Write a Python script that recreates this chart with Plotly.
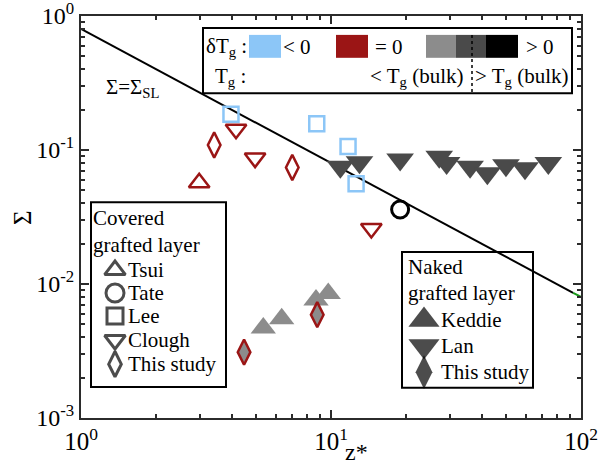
import plotly.graph_objects as go

FONT = "Liberation Serif, Times New Roman, serif"
BLUE = "#8cc6f7"
RED = "#9b1515"
GRAY = "#8c8c8c"
DGRAY = "#4a4a4a"
AX = "#2b2b2b"

# ---- data ----
tsui_z = [2.97]
tsui_s = [0.057]
tate_z = [18.9]
tate_s = [0.036]
lee_z = [3.98, 8.77, 11.7, 12.6]
lee_s = [0.185, 0.157, 0.106, 0.056]
clough_z = [4.17, 4.97, 14.5]
clough_s = [0.143, 0.087, 0.026]
study_cov_z = [3.41, 7.0]
study_cov_s = [0.109, 0.074]
keddie_z = [5.36, 6.35, 8.71, 9.75]
keddie_s = [0.0047, 0.0055, 0.0076, 0.0085]
lan_z = [10.9, 13.0, 18.9, 27.1, 29.0, 36.0, 42.2, 50.1, 59.7, 74.0]
lan_s = [0.075, 0.081, 0.085, 0.089, 0.080, 0.075, 0.067, 0.077, 0.073, 0.080]
study_nak_z = [4.49, 8.81]
study_nak_s = [0.0031, 0.0059]
sl_coef = 0.8
sl_z = [1, 93]
sl_z_end = [93, 100]

fig = go.Figure()

fig.add_trace(go.Scatter(x=sl_z, y=[sl_coef / z for z in sl_z], mode="lines",
                         line=dict(color="black", width=2), showlegend=False))
fig.add_trace(go.Scatter(x=sl_z_end, y=[sl_coef / z for z in sl_z_end], mode="lines",
                         xaxis="x3", yaxis="y3",
                         line=dict(color="#1a9a1a", width=2), showlegend=False))

def filled(zs, ss, symbol, size, fill, edge=None, lw=0):
    fig.add_trace(go.Scatter(
        x=zs, y=ss, mode="markers", showlegend=False,
        marker=dict(symbol=symbol, size=size, color=fill,
                    line=dict(color=edge if edge else fill, width=lw))))

def hollow(zs, ss, symbol, size, color, lw=2.5):
    fig.add_trace(go.Scatter(
        x=zs, y=ss, mode="markers", showlegend=False,
        marker=dict(symbol=symbol + "-open", size=size, color=color,
                    line=dict(color=color, width=lw))))

filled(keddie_z, keddie_s, "triangle-up", 22, GRAY)
filled(lan_z, lan_s, "triangle-down", 24, DGRAY)
filled(study_nak_z, study_nak_s, "diamond-tall", 18, GRAY, RED, 2.5)
hollow(tsui_z, tsui_s, "triangle-up", 18, RED)
hollow(clough_z, clough_s, "triangle-down", 18, RED)
hollow(study_cov_z, study_cov_s, "diamond-tall", 18, RED)
hollow(lee_z, lee_s, "square", 15, BLUE)
hollow(tate_z, tate_s, "circle", 17, "black", 3)

# legend markers on an overlay linear axis (paper-like coordinates)
leg_cov = [("triangle-up-open", "Tsui", 0.368), ("circle-open", "Tate", 0.311),
           ("square-open", "Lee", 0.254), ("triangle-down-open", "Clough", 0.194),
           ("diamond-tall-open", "This study", 0.134)]
leg_nak = [("triangle-up", "Keddie", 0.244), ("triangle-down", "Lan", 0.179),
           ("diamond-tall", "This study", 0.114)]
fig.add_trace(go.Scatter(
    x=[0.068] * len(leg_cov), y=[l[2] for l in leg_cov], mode="markers",
    xaxis="x2", yaxis="y2", showlegend=False,
    marker=dict(symbol=[l[0] for l in leg_cov], size=[18, 18, 16, 18, 18],
                color="black", line=dict(color="black", width=3))))
fig.add_trace(go.Scatter(
    x=[0.686] * len(leg_nak), y=[l[2] for l in leg_nak], mode="markers",
    xaxis="x2", yaxis="y2", showlegend=False,
    marker=dict(symbol=[l[0] for l in leg_nak], size=[27, 27, 24],
                color="black", line=dict(width=0))))

ann = []
def txt(x, y, t, xa="left", size=21, angle=0):
    ann.append(dict(x=x, y=y, xref="paper", yref="paper", text=t, showarrow=False,
                    xanchor=xa, yanchor="middle", textangle=angle,
                    font=dict(family=FONT, size=size, color="black")))

for sym, name, y in leg_cov:
    txt(0.090, y, name)
for sym, name, y in leg_nak:
    txt(0.716, y, name)
txt(0.020, 0.4975, "Covered")
txt(0.020, 0.430, "grafted layer")
txt(0.650, 0.376, "Naked")
txt(0.650, 0.311, "grafted layer")

txt(0.246, 0.923, "δT<sub>g</sub> :")
txt(0.400, 0.923, "< 0")
txt(0.584, 0.923, "= 0")
txt(0.886, 0.923, "> 0")
txt(0.264, 0.848, "T<sub>g</sub> :")
txt(0.768, 0.848, "< T<sub>g</sub> (bulk)", "right")
txt(0.784, 0.848, "> T<sub>g</sub> (bulk)")
txt(0.102, 0.821, "Σ=Σ<sub>SL</sub>", "center")
txt(0.550, -0.085, "z*", "center", 24)
txt(-0.118, 0.4975, "Σ", "center", 25, -90)

shapes = []
def rect(x0, x1, y0, y1, fill=None, lw=2):
    shapes.append(dict(type="rect", xref="paper", yref="paper", x0=x0, x1=x1, y0=y0, y1=y1,
                       line=dict(color="black", width=lw if not fill else 0),
                       fillcolor=fill if fill else "white", layer="above" if fill else "below"))

rect(0.244, 0.982, 0.808, 0.970)
rect(0.020, 0.290, 0.077, 0.537)
rect(0.642, 0.904, 0.075, 0.413)
rect(0.336, 0.400, 0.896, 0.953, BLUE)
rect(0.510, 0.574, 0.896, 0.953, RED)
rect(0.690, 0.750, 0.896, 0.953, GRAY)
rect(0.750, 0.810, 0.896, 0.953, DGRAY)
rect(0.810, 0.874, 0.896, 0.953, "black")
shapes.append(dict(type="line", xref="paper", yref="paper", x0=0.782, x1=0.782, y0=0.811, y1=0.953,
                   line=dict(color="black", width=1.5, dash="dot"), layer="above"))

xt = [1, 10, 100]
yt = [1e-3, 1e-2, 1e-1, 1]
xtt = ["10<sup>0</sup>", "10<sup>1</sup>", "10<sup>2</sup>"]
ytt = ["10<sup>-3</sup>", "10<sup>-2</sup>", "10<sup>-1</sup>", "10<sup>0</sup>"]
xminor = [m * 10 ** d for d in range(0, 2) for m in range(2, 10)]
yminor = [m * 10 ** d for d in range(-3, 0) for m in range(2, 10)]

base = dict(type="log", showgrid=False, zeroline=False, showline=True, linecolor=AX,
            linewidth=2, mirror="allticks", ticks="inside", tickwidth=2,
            tickcolor=AX, automargin=False, ticklabeloverflow="allow")

fig.update_layout(
    width=608, height=466, margin=dict(l=81, r=27, t=16, b=48),
    plot_bgcolor="white", paper_bgcolor="white",
    xaxis=dict(range=[0, 2], tickvals=xt, ticktext=xtt, ticklen=8,
               tickfont=dict(family=FONT, size=25, color="black"), **base),
    yaxis=dict(range=[-3, 0], tickvals=yt, ticktext=ytt, ticklen=8,
               tickfont=dict(family=FONT, size=24, color="black"), **base),
    xaxis3=dict(range=[0, 2], tickvals=xminor, ticklen=4, showticklabels=False,
                overlaying="x", anchor="y3", **base),
    yaxis3=dict(range=[-3, 0], tickvals=yminor, ticklen=4, showticklabels=False,
                overlaying="y", anchor="x3", **base),
    xaxis2=dict(range=[0, 1], overlaying="x", visible=False, anchor="y2", automargin=False),
    yaxis2=dict(range=[0, 1], overlaying="y", visible=False, anchor="x2", automargin=False),
    annotations=ann, shapes=shapes, showlegend=False,
)

fig.write_html("out.html", post_script="document.body.style.margin='0px';",
               config={"displayModeBar": False})
